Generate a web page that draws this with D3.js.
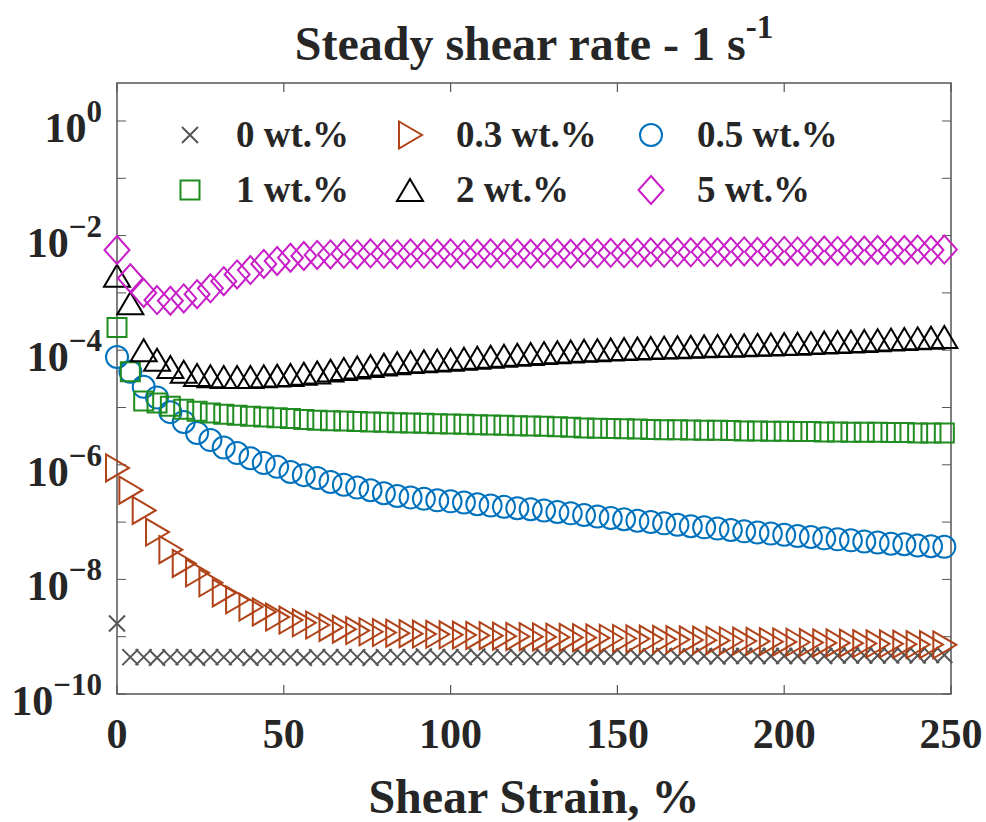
<!DOCTYPE html>
<html>
<head>
<meta charset="utf-8">
<script src="https://cdn.jsdelivr.net/npm/d3@7"></script>
<style>
  body { margin: 0; background: #fff; }
  text { font-family: "Liberation Serif", "DejaVu Serif", serif; font-weight: bold; fill: #262626; }
</style>
</head>
<body>
<svg id="chart" width="986" height="822"></svg>
<script>
// shear strain, % (same grid for every sample)
const strain = [0, 4, 8, 12, 16, 20, 24, 28, 32, 36, 40, 44, 48, 52, 56, 60,
  64, 68, 72, 76, 80, 84, 88, 92, 96, 100, 104, 108, 112, 116, 120, 124,
  128, 132, 136, 140, 144, 148, 152, 156, 160, 164, 168, 172, 176, 180, 184, 188,
  192, 196, 200, 204, 208, 212, 216, 220, 224, 228, 232, 236, 240, 244, 248];

// 0 wt.%
const wt0 = [1.7e-9, 4.4e-10, 4.4e-10, 4.3e-10, 4.4e-10, 4.4e-10, 4.3e-10, 4.4e-10, 4.4e-10, 4.4e-10,
  4.3e-10, 4.4e-10, 4.4e-10, 4.4e-10, 4.3e-10, 4.4e-10, 4.4e-10, 4.4e-10, 4.4e-10, 4.3e-10,
  4.4e-10, 4.4e-10, 4.4e-10, 4.5e-10, 4.4e-10, 4.4e-10, 4.4e-10, 4.5e-10, 4.4e-10, 4.4e-10,
  4.5e-10, 4.4e-10, 4.5e-10, 4.5e-10, 4.4e-10, 4.5e-10, 4.5e-10, 4.5e-10, 4.5e-10, 4.5e-10,
  4.5e-10, 4.6e-10, 4.5e-10, 4.5e-10, 4.6e-10, 4.5e-10, 4.6e-10, 4.6e-10, 4.6e-10, 4.6e-10,
  4.6e-10, 4.6e-10, 4.7e-10, 4.6e-10, 4.7e-10, 4.7e-10, 4.7e-10, 4.7e-10, 4.7e-10, 4.8e-10,
  4.7e-10, 4.8e-10, 4.8e-10];

// 0.3 wt.%
const wt03 = [8.8e-7, 3.6e-7, 1.6e-7, 6.7e-8, 3.3e-8, 1.9e-8, 1.3e-8, 8.7e-9, 5.8e-9, 4.4e-9,
  3.3e-9, 2.7e-9, 2.2e-9, 1.95e-9, 1.75e-9, 1.6e-9, 1.45e-9, 1.35e-9, 1.28e-9, 1.22e-9,
  1.18e-9, 1.15e-9, 1.13e-9, 1.11e-9, 1.1e-9, 1.08e-9, 1.07e-9, 1.05e-9, 1.04e-9, 1.02e-9,
  1.01e-9, 1.0e-9, 9.9e-10, 9.8e-10, 9.7e-10, 9.6e-10, 9.5e-10, 9.4e-10, 9.3e-10, 9.2e-10,
  9.1e-10, 9.0e-10, 8.9e-10, 8.8e-10, 8.7e-10, 8.6e-10, 8.5e-10, 8.4e-10, 8.3e-10, 8.2e-10,
  8.1e-10, 8.0e-10, 7.9e-10, 7.8e-10, 7.8e-10, 7.7e-10, 7.6e-10, 7.5e-10, 7.5e-10, 7.4e-10,
  7.3e-10, 7.3e-10, 7.2e-10];

// 0.5 wt.%
const wt05 = [7.6e-5, 4.2e-5, 2.3e-5, 1.5e-5, 8.3e-6, 5.6e-6, 3.6e-6, 2.7e-6, 2.0e-6, 1.6e-6,
  1.3e-6, 1.07e-6, 9.2e-7, 7.5e-7, 6.6e-7, 5.9e-7, 5.0e-7, 4.5e-7, 4.0e-7, 3.6e-7,
  3.2e-7, 2.85e-7, 2.7e-7, 2.55e-7, 2.4e-7, 2.3e-7, 2.2e-7, 2.05e-7, 1.95e-7, 1.85e-7,
  1.75e-7, 1.68e-7, 1.6e-7, 1.5e-7, 1.42e-7, 1.33e-7, 1.25e-7, 1.18e-7, 1.12e-7, 1.06e-7,
  1.0e-7, 9.5e-8, 9.0e-8, 8.5e-8, 8.1e-8, 7.7e-8, 7.3e-8, 6.9e-8, 6.6e-8, 6.3e-8,
  6.0e-8, 5.7e-8, 5.5e-8, 5.2e-8, 5.0e-8, 4.8e-8, 4.6e-8, 4.4e-8, 4.2e-8, 4.1e-8,
  3.9e-8, 3.8e-8, 3.7e-8];

// 1 wt.%
const wt1 = [2.5e-4, 4.2e-5, 1.3e-5, 1.2e-5, 1.05e-5, 9.3e-6, 8.6e-6, 8.0e-6, 7.6e-6, 7.3e-6,
  7.0e-6, 6.8e-6, 6.6e-6, 6.4e-6, 6.2e-6, 6.0e-6, 5.9e-6, 5.8e-6, 5.7e-6, 5.6e-6,
  5.5e-6, 5.4e-6, 5.35e-6, 5.3e-6, 5.2e-6, 5.15e-6, 5.1e-6, 5.0e-6, 4.95e-6, 4.9e-6,
  4.8e-6, 4.75e-6, 4.7e-6, 4.6e-6, 4.5e-6, 4.4e-6, 4.35e-6, 4.3e-6, 4.25e-6, 4.2e-6,
  4.15e-6, 4.1e-6, 4.1e-6, 4.05e-6, 4.0e-6, 4.0e-6, 3.95e-6, 3.9e-6, 3.9e-6, 3.85e-6,
  3.85e-6, 3.8e-6, 3.8e-6, 3.75e-6, 3.75e-6, 3.7e-6, 3.7e-6, 3.7e-6, 3.65e-6, 3.65e-6,
  3.6e-6, 3.6e-6, 3.6e-6];

// 2 wt.%
const wt2 = [2.0e-3, 6.6e-4, 1.0e-4, 6.8e-5, 5.1e-5, 4.2e-5, 3.7e-5, 3.5e-5, 3.4e-5, 3.4e-5,
  3.4e-5, 3.5e-5, 3.6e-5, 3.7e-5, 3.9e-5, 4.1e-5, 4.4e-5, 4.7e-5, 5.0e-5, 5.3e-5,
  5.6e-5, 5.9e-5, 6.2e-5, 6.4e-5, 6.6e-5, 6.8e-5, 7.1e-5, 7.4e-5, 7.7e-5, 8.0e-5,
  8.3e-5, 8.6e-5, 8.9e-5, 9.2e-5, 9.5e-5, 9.8e-5, 1.0e-4, 1.03e-4, 1.05e-4, 1.07e-4,
  1.09e-4, 1.11e-4, 1.13e-4, 1.15e-4, 1.17e-4, 1.19e-4, 1.2e-4, 1.22e-4, 1.24e-4, 1.26e-4,
  1.28e-4, 1.3e-4, 1.33e-4, 1.36e-4, 1.39e-4, 1.42e-4, 1.45e-4, 1.49e-4, 1.53e-4, 1.57e-4,
  1.61e-4, 1.65e-4, 1.7e-4];

// 5 wt.%
const wt5 = [5.6e-3, 1.8e-3, 1.0e-3, 7.5e-4, 7.3e-4, 8.0e-4, 9.5e-4, 1.2e-3, 1.6e-3, 2.1e-3,
  2.5e-3, 3.2e-3, 3.6e-3, 4.1e-3, 4.4e-3, 4.6e-3, 4.7e-3, 4.8e-3, 4.7e-3, 4.9e-3,
  4.8e-3, 4.7e-3, 4.9e-3, 4.8e-3, 4.8e-3, 4.9e-3, 4.7e-3, 4.8e-3, 4.9e-3, 4.8e-3,
  4.9e-3, 4.8e-3, 4.9e-3, 4.9e-3, 4.8e-3, 5.0e-3, 4.9e-3, 5.0e-3, 4.9e-3, 5.0e-3,
  5.1e-3, 5.0e-3, 5.1e-3, 5.1e-3, 5.2e-3, 5.1e-3, 5.2e-3, 5.3e-3, 5.2e-3, 5.3e-3,
  5.4e-3, 5.3e-3, 5.4e-3, 5.5e-3, 5.4e-3, 5.5e-3, 5.5e-3, 5.6e-3, 5.5e-3, 5.6e-3,
  5.7e-3, 5.6e-3, 5.7e-3];

const seriesNames = ['0 wt.%', '0.3 wt.%', '0.5 wt.%', '1 wt.%', '2 wt.%', '5 wt.%'];
const seriesValues = [wt0, wt03, wt05, wt1, wt2, wt5];
const seriesColors = ['#555555', '#b04218', '#0072bd', '#1f8c1f', '#000000', '#c81ec8'];
const seriesMarkers = ['cross', 'triRight', 'circle', 'square', 'triUp', 'diamond'];

const xTicks = [0, 50, 100, 150, 200, 250];
const yTickExps = [0, -2, -4, -6, -8, -10];

// marker outlines centred on 0,0
let markerPath = {
  cross: 'M-8,-8L8,8M-8,8L8,-8',
  triRight: 'M-11,-13.5L12,0L-11,13.5Z',
  circle: 'M11,0A11,11 0 1,1 -11,0A11,11 0 1,1 11,0Z',
  square: 'M-9.5,-9.5H9.5V9.5H-9.5Z',
  triUp: 'M0,-11L13,11H-13Z',
  diamond: 'M0,-14L12.5,0L0,14L-12.5,0Z'
};

let margin = {top: 83, right: 35, bottom: 128, left: 117},
    width = 986 - margin.left - margin.right,
    height = 822 - margin.top - margin.bottom;

let svg = d3.select('#chart');
let g = svg.append('g')
  .attr('transform', 'translate(' + margin.left + ',' + margin.top + ')');

let x = d3.scaleLinear().domain([0, 250]).range([0, width]);
let y = d3.scaleLog().domain([1e-10, Math.pow(10, 0.663)]).range([height, 0]);

let axisColor = '#555';

// frame
g.append('rect')
  .attr('width', width).attr('height', height)
  .attr('fill', 'none').attr('stroke', axisColor).attr('stroke-width', 1.5);

// x ticks, bottom and top, pointing in
xTicks.forEach(function (t) {
  g.append('line').attr('x1', x(t)).attr('x2', x(t)).attr('y1', height).attr('y2', height - 9)
    .attr('stroke', axisColor).attr('stroke-width', 1.2);
  g.append('line').attr('x1', x(t)).attr('x2', x(t)).attr('y1', 0).attr('y2', 9)
    .attr('stroke', axisColor).attr('stroke-width', 1.2);
  g.append('text')
    .attr('x', x(t)).attr('y', height + 54)
    .attr('text-anchor', 'middle')
    .style('font-size', '42px')
    .text(t);
});

// y ticks: decades and minor ticks on both sides
let yt = y.ticks().filter(function (v) { return v >= 1e-10 && v <= y.domain()[1]; });
yt.forEach(function (v) {
  let mant = v / Math.pow(10, Math.floor(Math.log10(v) + 1e-9));
  let major = Math.abs(mant - 1) < 1e-6;
  let len = major ? 9 : 5;
  g.append('line').attr('x1', 0).attr('x2', len).attr('y1', y(v)).attr('y2', y(v))
    .attr('stroke', axisColor).attr('stroke-width', 1);
  g.append('line').attr('x1', width).attr('x2', width - len).attr('y1', y(v)).attr('y2', y(v))
    .attr('stroke', axisColor).attr('stroke-width', 1);
});

yTickExps.forEach(function (e) {
  let t = g.append('text')
    .attr('x', -15).attr('y', y(Math.pow(10, e)) + 21)
    .attr('text-anchor', 'end')
    .style('font-size', '42px');
  t.append('tspan').text('10');
  t.append('tspan').attr('dy', -20).style('font-size', '31px')
    .text(String(e).replace('-', '\u2212'));
});

// data
seriesValues.forEach(function (vals, k) {
  g.append('g').selectAll('path')
    .data(vals)
    .enter().append('path')
    .attr('d', markerPath[seriesMarkers[k]])
    .attr('transform', function (d, i) { return 'translate(' + x(strain[i]) + ',' + y(d) + ')'; })
    .attr('fill', 'none')
    .attr('stroke', seriesColors[k])
    .attr('stroke-width', 2);
});

// legend, 3 columns x 2 rows
let legX = [190, 410, 651], legY = [135, 190], textOff = 46;
seriesNames.forEach(function (name, k) {
  let col = k % 3, row = Math.floor(k / 3);
  svg.append('path')
    .attr('d', markerPath[seriesMarkers[k]])
    .attr('transform', 'translate(' + legX[col] + ',' + legY[row] + ')')
    .attr('fill', 'none').attr('stroke', seriesColors[k]).attr('stroke-width', 2);
  svg.append('text')
    .attr('x', legX[col] + textOff).attr('y', legY[row] + 12)
    .style('font-size', '37px')
    .text(name);
});

// title
let title = svg.append('text')
  .attr('x', margin.left + width / 2).attr('y', 60)
  .attr('text-anchor', 'middle')
  .style('font-size', '48px');
title.append('tspan').text('Steady shear rate - 1 s');
title.append('tspan').attr('dy', -22).style('font-size', '33px').text('-1');

// x label
svg.append('text')
  .attr('x', margin.left + width / 2).attr('y', 813)
  .attr('text-anchor', 'middle')
  .style('font-size', '48px')
  .text('Shear Strain, %');
</script>
</body>
</html>
